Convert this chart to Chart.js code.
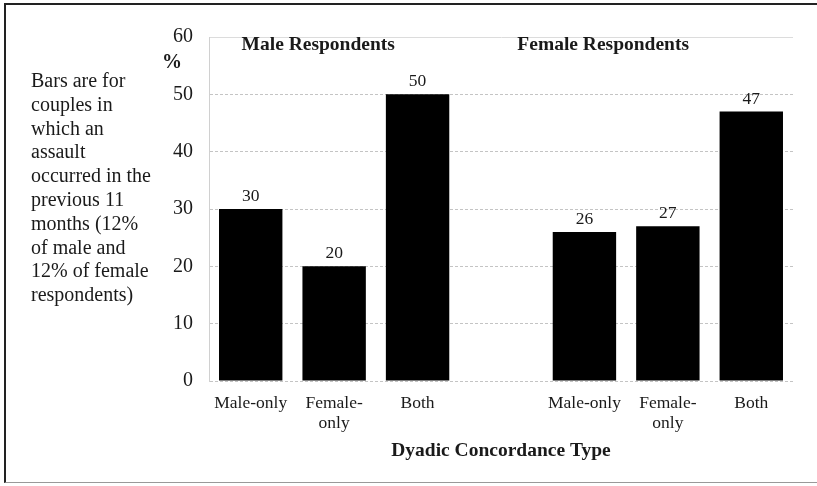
<!DOCTYPE html>
<html>
<head>
<meta charset="utf-8">
<script src="https://cdn.jsdelivr.net/npm/chart.js@4.4.0/dist/chart.umd.min.js"></script>
<style>
  html, body { margin: 0; padding: 0; background: #fff; }
  #wrap { position: relative; width: 817px; height: 486px; overflow: hidden; }
  #frame { position: absolute; left: 4px; top: 3px; width: 830px; height: 480px;
           border-left: 2px solid #222; border-top: 2px solid #222; border-bottom: 1px solid #999; box-sizing: border-box; }
  canvas { position: absolute; left: 0; top: 0; }
  #note { position: absolute; left: 31px; top: 69px; font-family: "Liberation Serif", "Times New Roman", serif;
          font-size: 20px; line-height: 23.8px; color: #1a1a1a; white-space: nowrap; }
  #pct { position: absolute; left: 162px; top: 50px; font-family: "Liberation Serif", serif;
         font-weight: bold; font-size: 20px; line-height: 23px; color: #1a1a1a; }
</style>
</head>
<body>
<div id="wrap">
  <div id="frame"></div>
  <canvas id="c" width="817" height="486"></canvas>
  <div id="note">Bars are for<br>couples in<br>which an<br>assault<br>occurred in the<br>previous 11<br>months (12%<br>of male and<br>12% of female<br>respondents)</div>
  <div id="pct">%</div>
</div>
<script>
const categories = [['Male-only'], ['Female-', 'only'], ['Both']];
const maleValues = [30, 20, 50];
const femaleValues = [26, 27, 47];
const groupTitles = ['Male Respondents', 'Female Respondents'];
const yTicks = [0, 10, 20, 30, 40, 50, 60];
const xAxisTitle = 'Dyadic Concordance Type';

const labels = [...categories, '', ...categories];
const values = [...maleValues, null, ...femaleValues];

const SERIF = '"Liberation Serif", "Times New Roman", serif';
const TEXT = '#1a1a1a';

const barLabels = {
  id: 'barLabels',
  afterDatasetsDraw(chart) {
    const ctx = chart.ctx;
    const meta = chart.getDatasetMeta(0);
    ctx.save();
    ctx.font = '17.5px ' + SERIF;
    ctx.fillStyle = TEXT;
    ctx.textAlign = 'center';
    ctx.textBaseline = 'alphabetic';
    meta.data.forEach((bar, i) => {
      const v = values[i];
      if (v === null || v === undefined) return;
      ctx.fillText(String(v), bar.x, bar.y - 8);
    });
    ctx.restore();
  }
};

const groupTitlePlugin = {
  id: 'groupTitles',
  afterDraw(chart) {
    const ctx = chart.ctx;
    const a = chart.chartArea;
    const w = a.right - a.left;
    ctx.save();
    ctx.font = 'bold 19.5px ' + SERIF;
    ctx.fillStyle = TEXT;
    ctx.textAlign = 'center';
    ctx.textBaseline = 'alphabetic';
    ctx.fillText(groupTitles[0], a.left + w * 0.187, a.top + 12.5);
    ctx.fillText(groupTitles[1], a.left + w * 0.675, a.top + 13);
    ctx.restore();
  }
};

new Chart(document.getElementById('c'), {
  type: 'bar',
  data: {
    labels: labels,
    datasets: [{
      data: values,
      backgroundColor: '#000',
      borderWidth: 0,
      barPercentage: 0.76,
      categoryPercentage: 1.0
    }]
  },
  options: {
    responsive: false,
    animation: false,
    devicePixelRatio: 1,
    layout: { padding: { left: 149, right: 24, top: 37, bottom: 25 } },
    plugins: { legend: { display: false }, tooltip: { enabled: false }, title: { display: false } },
    scales: {
      x: {
        grid: { display: false, drawTicks: false },
        border: { display: false },
        ticks: {
          color: TEXT,
          font: { family: SERIF, size: 17.5, lineHeight: 1.15 },
          padding: 12,
          maxRotation: 0,
          autoSkip: false
        },
        title: {
          display: true,
          text: xAxisTitle,
          color: TEXT,
          font: { family: SERIF, size: 19.5, weight: 'bold', lineHeight: 1.0 },
          padding: { top: 0, bottom: 0 }
        },
        afterFit(scale) { scale.height = 80; }
      },
      y: {
        min: 0,
        max: 60,
        afterBuildTicks(scale) { scale.ticks = yTicks.map(v => ({ value: v })); },
        grid: {
          drawTicks: false,
          tickLength: 0,
          color: (c) => (c.tick && c.tick.value === 60) ? '#dcdcdc' : '#c4c4c4',
          lineWidth: 1
        },
        border: {
          display: true,
          color: '#d0d0d0',
          width: 1,
          dash: (c) => (c.type === 'tick' && c.tick && c.tick.value !== 60) ? [3, 2] : []
        },
        ticks: {
          color: TEXT,
          font: { family: SERIF, size: 20 },
          padding: 16
        },
        afterFit(scale) { scale.width = 60; }
      }
    }
  },
  plugins: [barLabels, groupTitlePlugin]
});
</script>
</body>
</html>
